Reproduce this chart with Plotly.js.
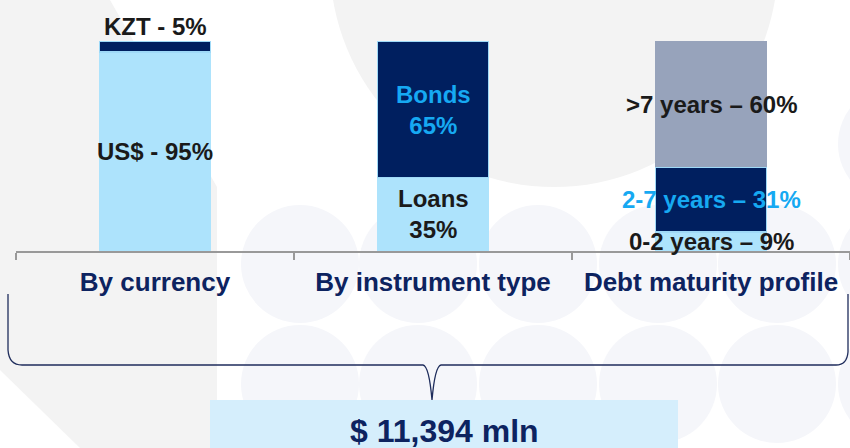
<!DOCTYPE html>
<html>
<head>
<meta charset="utf-8">
<script src="https://cdn.plot.ly/plotly-3.0.1.min.js"></script>
<style>html,body{margin:0;padding:0;background:#fff;}#chart{width:850px;height:448px;}</style>
</head>
<body>
<div id="chart"></div>
<script>
// ---- data ----
const categories = ['By currency', 'By instrument type', 'Debt maturity profile'];
const lowerValues = [95, 35, 9];
const lowerLabels = ['US$ - 95%', 'Loans<br>35%', '0-2 years – 9%'];
const middleValues = [5, 65, 31];
const middleLabels = ['KZT - 5%', 'Bonds<br>65%', '2-7 years – 31%'];
const upperValues = [null, null, 60];
const upperLabels = [null, null, '>7 years – 60%'];
const totalLabel = '$ 11,394 mln';

// ---- styles ----
const LIGHT = '#ade3fc', NAVY = '#001f5f', GRAY = '#97a3bb', CYAN = '#16a9f2', INK = '#1a1a1a';
const FONT = 'Arial, "Liberation Sans", sans-serif';
const W = 850, H = 448, ML = 16, MR = 0, MT = 10, MB = 197;
const PW = W - ML - MR, PH = H - MT - MB;
const px = x => (x - ML) / PW;            // pixel -> paper x
const py = y => (H - MB - y) / PH;         // pixel -> paper y

const traces = [
  {type: 'bar', x: categories, y: lowerValues, marker: {color: LIGHT, line: {color: LIGHT, width: 1.5}}, hoverinfo: 'skip'},
  {type: 'bar', x: categories, y: middleValues, marker: {color: NAVY, line: {color: '#9fd9f7', width: 1.5}}, hoverinfo: 'skip'},
  {type: 'bar', x: categories, y: upperValues, marker: {color: GRAY, line: {width: 0}}, hoverinfo: 'skip'}
];

const annotations = [];
const labelFont = c => ({family: FONT, size: 24, color: c, weight: 'bold'});
categories.forEach((c, i) => {
  const lo = lowerValues[i] || 0, mid = middleValues[i] || 0, up = upperValues[i] || 0;
  annotations.push({x: c, y: lo / 2, xref: 'x', yref: 'y', text: lowerLabels[i], showarrow: false, font: labelFont(INK)});
  if (i === 0) {
    annotations.push({x: c, y: lo + mid, xref: 'x', yref: 'y', yanchor: 'bottom', yshift: -1, text: middleLabels[i], showarrow: false, font: labelFont(INK)});
  } else {
    annotations.push({x: c, y: lo + mid / 2, xref: 'x', yref: 'y', text: middleLabels[i], showarrow: false, font: labelFont(CYAN)});
  }
  if (upperLabels[i]) {
    annotations.push({x: c, y: lo + mid + up / 2, xref: 'x', yref: 'y', text: upperLabels[i], showarrow: false, font: labelFont(INK)});
  }
});
annotations.push({x: px(444), y: py(431), xref: 'paper', yref: 'paper', xanchor: 'center', yanchor: 'middle',
  text: totalLabel, showarrow: false, font: {family: FONT, size: 32, color: '#0d2360', weight: 'bold'}});

// brace path in pixel coordinates, converted to paper
function P(x, y) { return px(x).toFixed(5) + ',' + py(y).toFixed(5); }
const brace = 'M' + P(8, 294) + ' L' + P(8, 350) + ' Q' + P(9, 365) + ' ' + P(22, 365) +
  ' L' + P(423, 365) + ' Q' + P(429, 366) + ' ' + P(432, 400) +
  ' Q' + P(435, 366) + ' ' + P(441, 365) + ' L' + P(836, 365) +
  ' Q' + P(847, 365) + ' ' + P(848, 352) + ' L' + P(848, 294);

const shapes = [];
// faint decorative background
shapes.push({type: 'path', xref: 'paper', yref: 'paper', layer: 'below', line: {width: 0}, fillcolor: '#f3f3f3',
  path: 'M' + P(0, 0) + ' L' + P(110, 0) + ' L' + P(217, 187) + ' L' + P(217, 448) + ' L' + P(80, 448) + ' L' + P(0, 370) + ' Z'});
shapes.push({type: 'circle', xref: 'paper', yref: 'paper', layer: 'below', line: {width: 0}, fillcolor: '#f3f3f3',
  x0: px(554 - 224), x1: px(554 + 224), y0: py(-37 + 224), y1: py(-37 - 224)});
[264, 384].forEach(cy => {
  [300, 418, 538, 658, 777, 897].forEach(cx => {
    shapes.push({type: 'circle', xref: 'paper', yref: 'paper', layer: 'below', line: {width: 0}, fillcolor: '#f5f6fa',
      x0: px(cx - 59), x1: px(cx + 59), y0: py(cy + 59), y1: py(cy - 59)});
  });
});
shapes.push({type: 'circle', xref: 'paper', yref: 'paper', layer: 'below', line: {width: 0}, fillcolor: '#f5f6fa',
  x0: px(897 - 59), x1: px(897 + 59), y0: py(144 + 59), y1: py(144 - 59)});
shapes.push({type: 'path', xref: 'paper', yref: 'paper', line: {color: '#1f2d5c', width: 1.3}, path: brace});
shapes.push({type: 'rect', xref: 'paper', yref: 'paper', line: {width: 0}, fillcolor: '#d5eefc',
  x0: px(210), x1: px(678), y0: py(400), y1: py(452)});

const layout = {
  width: W, height: H,
  margin: {l: ML, r: MR, t: MT, b: MB, pad: 0},
  paper_bgcolor: '#ffffff', plot_bgcolor: 'rgba(0,0,0,0)',
  barmode: 'stack', bargap: 0.6, showlegend: false,
  xaxis: {type: 'category', range: [-0.5, 2.5], tickson: 'boundaries', ticks: 'outside', ticklen: 7, tickwidth: 1.5,
    tickcolor: '#999999', showline: true, linecolor: '#999999', linewidth: 2, showgrid: false, zeroline: false,
    tickfont: {family: FONT, size: 26, color: '#0d2360', weight: 'bold'}, ticklabelstandoff: 7, fixedrange: true},
  yaxis: {range: [0, 115], visible: false, showgrid: false, zeroline: false, fixedrange: true},
  annotations: annotations,
  shapes: shapes
};

Plotly.newPlot('chart', traces, layout, {displayModeBar: false, staticPlot: true});
</script>
</body>
</html>
